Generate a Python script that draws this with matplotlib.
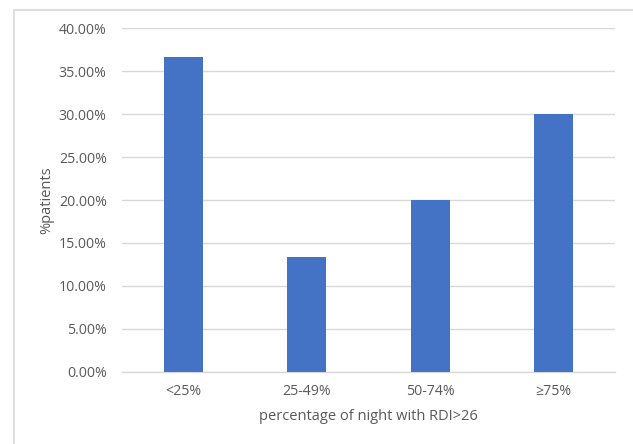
import matplotlib
matplotlib.use("Agg")
import matplotlib.pyplot as plt
from matplotlib.patches import Rectangle
from matplotlib.ticker import FuncFormatter

# data
categories = ['<25%', '25-49%', '50-74%', '≥75%']
patients_pct = [36.67, 13.33, 20.0, 30.0]
y_ticks = [0, 5, 10, 15, 20, 25, 30, 35, 40]

W, H = 633, 444
plt.rcParams['font.family'] = ['Open Sans', 'DejaVu Sans']
text_col = '#595959'
grid_col = '#d9d9d9'

fig = plt.figure(figsize=(W / 100, H / 100), dpi=100)

# chart border (only top and left visible in the crop)
fig.patches.append(Rectangle((13.5 / W, -0.1), 1.2, 1 - 10 / H + 0.1,
                             transform=fig.transFigure, fill=False,
                             edgecolor=grid_col, linewidth=1.2))

ax = fig.add_axes([122 / W, 1 - 371.7 / H, (615 - 122) / W, (371.7 - 28.5) / H])

x = range(len(categories))
ax.bar(x, patients_pct, width=0.315, color='#4472C4', zorder=3)

ax.set_xlim(-0.5, len(categories) - 0.5)
ax.set_ylim(0, 40)
ax.set_yticks(y_ticks)
ax.yaxis.set_major_formatter(FuncFormatter(lambda v, p: f"{v:.2f}%"))
ax.set_xticks(list(x))
ax.set_xticklabels(categories)

ax.grid(axis='y', color=grid_col, linewidth=1.0, zorder=0)
for s in ['top', 'right', 'left']:
    ax.spines[s].set_visible(False)
ax.spines['bottom'].set_color(grid_col)
ax.spines['bottom'].set_linewidth(1.0)
ax.tick_params(length=0, labelsize=10.2, colors=text_col, pad=9)
ax.tick_params(axis='y', pad=11)

ax.set_ylabel('%patients', fontsize=10.5, color=text_col, labelpad=3)
ax.set_xlabel('percentage of night with RDI>26', fontsize=10.5, color=text_col, labelpad=7)

fig.savefig('out.png', dpi=100, facecolor='white')
